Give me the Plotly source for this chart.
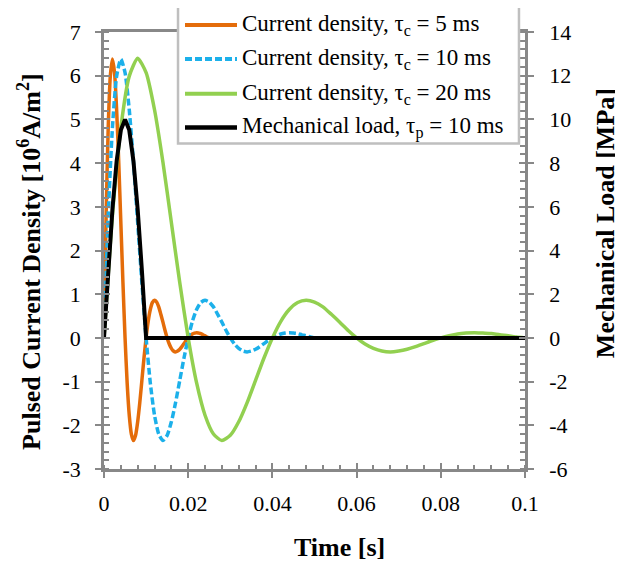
import plotly.graph_objects as go

# ---------------- data ----------------
time_c5 = [0, 0.0005, 0.001, 0.0015, 0.002, 0.0025, 0.003, 0.0035, 0.004, 0.0045,
           0.005, 0.0055, 0.006, 0.0065, 0.007, 0.0075, 0.008, 0.0085, 0.009, 0.0095,
           0.010, 0.0105, 0.011, 0.0115, 0.012, 0.0125, 0.013, 0.0135, 0.014, 0.0145,
           0.015, 0.0155, 0.016, 0.0165, 0.017, 0.0175, 0.018, 0.0185, 0.019, 0.0195,
           0.020, 0.0205, 0.021, 0.0215, 0.022, 0.0225, 0.023, 0.0235, 0.024, 0.0245,
           0.025, 0.03, 0.04, 0.05, 0.06, 0.07, 0.08, 0.09, 0.1]
current_c5 = [0, 2.80, 4.81, 5.99, 6.38, 6.07, 5.22, 4.02, 2.64, 1.26,
              0, -1.03, -1.77, -2.20, -2.35, -2.23, -1.92, -1.48, -0.97, -0.46,
              0, 0.38, 0.65, 0.81, 0.86, 0.82, 0.71, 0.54, 0.36, 0.17,
              0, -0.14, -0.24, -0.30, -0.32, -0.30, -0.26, -0.20, -0.13, -0.06,
              0, 0.05, 0.09, 0.11, 0.12, 0.11, 0.10, 0.07, 0.05, 0.02,
              0, 0, 0, 0, 0, 0, 0, 0, 0]

time_c10 = [0, 0.001, 0.002, 0.003, 0.004, 0.005, 0.006, 0.007, 0.008, 0.009,
            0.010, 0.011, 0.012, 0.013, 0.014, 0.015, 0.016, 0.017, 0.018, 0.019,
            0.020, 0.021, 0.022, 0.023, 0.024, 0.025, 0.026, 0.027, 0.028, 0.029,
            0.030, 0.031, 0.032, 0.033, 0.034, 0.035, 0.036, 0.037, 0.038, 0.039,
            0.040, 0.041, 0.042, 0.043, 0.044, 0.045, 0.046, 0.047, 0.048, 0.049,
            0.050, 0.06, 0.07, 0.08, 0.09, 0.1]
current_c10 = [0, 2.80, 4.81, 5.99, 6.38, 6.07, 5.22, 4.02, 2.64, 1.26,
               0, -1.03, -1.77, -2.20, -2.35, -2.23, -1.92, -1.48, -0.97, -0.46,
               0, 0.38, 0.65, 0.81, 0.86, 0.82, 0.71, 0.54, 0.36, 0.17,
               0, -0.14, -0.24, -0.30, -0.32, -0.30, -0.26, -0.20, -0.13, -0.06,
               0, 0.05, 0.09, 0.11, 0.12, 0.11, 0.10, 0.07, 0.05, 0.02,
               0, 0, 0, 0, 0, 0]

time_c20 = [0, 0.002, 0.004, 0.006, 0.008, 0.010, 0.012, 0.014, 0.016, 0.018,
            0.020, 0.022, 0.024, 0.026, 0.028, 0.030, 0.032, 0.034, 0.036, 0.038,
            0.040, 0.042, 0.044, 0.046, 0.048, 0.050, 0.052, 0.054, 0.056, 0.058,
            0.060, 0.062, 0.064, 0.066, 0.068, 0.070, 0.072, 0.074, 0.076, 0.078,
            0.080, 0.082, 0.084, 0.086, 0.088, 0.090, 0.092, 0.094, 0.096, 0.098,
            0.1]
current_c20 = [0, 2.80, 4.81, 5.99, 6.40, 6.07, 5.22, 4.02, 2.64, 1.26,
               0, -1.03, -1.77, -2.20, -2.35, -2.23, -1.92, -1.48, -0.97, -0.46,
               0, 0.38, 0.65, 0.81, 0.86, 0.82, 0.71, 0.54, 0.36, 0.17,
               0, -0.14, -0.24, -0.30, -0.32, -0.30, -0.26, -0.20, -0.13, -0.06,
               0, 0.05, 0.09, 0.11, 0.12, 0.11, 0.10, 0.07, 0.05, 0.02,
               0]

time_load = [0, 0.001, 0.002, 0.003, 0.004, 0.005, 0.006, 0.007, 0.008, 0.009, 0.010, 0.1]
load_mpa = [0, 3.09, 5.88, 8.09, 9.51, 10.0, 9.51, 8.09, 5.88, 3.09, 0, 0]

x_tickvals = [0, 0.02, 0.04, 0.06, 0.08, 0.1]
x_ticktext = ["0", "0.02", "0.04", "0.06", "0.08", "0.1"]
y1_tickvals = [-3, -2, -1, 0, 1, 2, 3, 4, 5, 6, 7]
y1_ticktext = ["-3", "-2", "-1", "0", "1", "2", "3", "4", "5", "6", "7"]
y2_tickvals = [-6, -4, -2, 0, 2, 4, 6, 8, 10, 12, 14]
y2_ticktext = ["-6", "-4", "-2", "0", "2", "4", "6", "8", "10", "12", "14"]

legend_labels = [
    "Current density, τ<sub>c</sub> = 5 ms",
    "Current density, τ<sub>c</sub> = 10 ms",
    "Current density, τ<sub>c</sub> = 20 ms",
    "Mechanical load, τ<sub>p</sub> = 10 ms",
]

# ---------------- styling ----------------
FONT = "Liberation Serif"
AXIS_GRAY = "#888888"
ORANGE = "#E46C0A"
BLUE = "#1CB0EA"
GREEN = "#92D050"
BLACK = "#000000"
PAD = "\u2002"  # en space: pushes right-axis labels away from the axis like the reference

fig = go.Figure()
fig.add_trace(go.Scatter(x=time_c5, y=current_c5, mode="lines", name=legend_labels[0],
                         line=dict(color=ORANGE, width=3.5, shape="spline", smoothing=0.6),
                         showlegend=False))
fig.add_trace(go.Scatter(x=time_c10, y=current_c10, mode="lines", name=legend_labels[1],
                         line=dict(color=BLUE, width=3.5, dash="7px,3px", shape="spline", smoothing=0.6),
                         showlegend=False))
fig.add_trace(go.Scatter(x=time_c20, y=current_c20, mode="lines", name=legend_labels[2],
                         line=dict(color=GREEN, width=3.5, shape="spline", smoothing=0.6),
                         showlegend=False))
fig.add_trace(go.Scatter(x=time_load, y=load_mpa, mode="lines", name=legend_labels[3],
                         line=dict(color=BLACK, width=4), yaxis="y2", showlegend=False))

# helper invisible traces so the overlay axes (inside halves of crossing ticks) render
for xa, ya in (("x3", "y"), ("x", "y4"), ("x", "y5")):
    fig.add_trace(go.Scatter(x=[0], y=[0], mode="lines", xaxis=xa, yaxis=ya,
                             showlegend=False, hoverinfo="skip", line=dict(width=0)))

tickfont = dict(family=FONT, size=22, color="black")

fig.update_layout(
    width=615, height=561,
    margin=dict(l=96, r=98, t=22, b=100),
    paper_bgcolor="white", plot_bgcolor="white",
    showlegend=False,
    xaxis=dict(range=[0, 0.1], tickvals=x_tickvals, ticktext=x_ticktext,
               showgrid=False, zeroline=False,
               showline=True, linecolor=AXIS_GRAY, linewidth=2.5, mirror=True,
               ticks="outside", ticklen=6, tickwidth=2, tickcolor=AXIS_GRAY,
               minor=dict(dtick=0.004, tick0=0, ticks="inside", ticklen=4, tickwidth=1.5,
                          tickcolor=AXIS_GRAY, showgrid=False),
               tickfont=tickfont, ticklabelstandoff=7),
    xaxis3=dict(range=[0, 0.1], dtick=0.02, tick0=0, overlaying="x", anchor="y",
                showgrid=False, zeroline=False, showline=False, showticklabels=False,
                ticks="inside", ticklen=6, tickwidth=2, tickcolor=AXIS_GRAY),
    yaxis=dict(range=[-3, 7], tickvals=y1_tickvals, ticktext=y1_ticktext,
               showgrid=False, zeroline=False,
               showline=True, linecolor=AXIS_GRAY, linewidth=2.5,
               ticks="outside", ticklen=6, tickwidth=2, tickcolor=AXIS_GRAY,
               minor=dict(dtick=0.2, tick0=0, ticks="inside", ticklen=5, tickwidth=1.5,
                          tickcolor=AXIS_GRAY, showgrid=False),
               tickfont=tickfont, ticklabelstandoff=10),
    yaxis2=dict(range=[-6, 14], tickvals=y2_tickvals, ticktext=[PAD + t for t in y2_ticktext],
                overlaying="y", side="right", anchor="x",
                showgrid=False, zeroline=False,
                showline=True, linecolor=AXIS_GRAY, linewidth=2.5,
                ticks="outside", ticklen=6, tickwidth=2, tickcolor=AXIS_GRAY,
                minor=dict(dtick=0.4, tick0=0, ticks="inside", ticklen=5, tickwidth=1.5,
                           tickcolor=AXIS_GRAY, showgrid=False),
                tickfont=tickfont),
    yaxis4=dict(range=[-3, 7], dtick=1, tick0=0, overlaying="y", anchor="x", side="left",
                showgrid=False, zeroline=False, showline=False, showticklabels=False,
                ticks="inside", ticklen=6, tickwidth=2, tickcolor=AXIS_GRAY),
    yaxis5=dict(range=[-6, 14], dtick=2, tick0=0, overlaying="y", anchor="x", side="right",
                showgrid=False, zeroline=False, showline=False, showticklabels=False,
                ticks="inside", ticklen=6, tickwidth=2, tickcolor=AXIS_GRAY),
)

# ---------------- axis titles ----------------
title_font = dict(family=FONT, size=26, color="black")
fig.add_annotation(text="<b>Time [s]</b>", xref="paper", yref="paper", x=0.56, y=-0.18,
                   xanchor="center", yanchor="middle", showarrow=False, font=title_font)
fig.add_annotation(text="<b>Pulsed Current Density [10<sup>6</sup>A/m<sup>2</sup>]</b>",
                   xref="paper", yref="paper", x=-0.176, y=0.476, textangle=-90,
                   xanchor="center", yanchor="middle", showarrow=False, font=title_font)
fig.add_annotation(text="<b>Mechanical Load [MPa]</b>", xref="paper", yref="paper",
                   x=1.19, y=0.5626, textangle=-90,
                   xanchor="center", yanchor="middle", showarrow=False, font=title_font)

# ---------------- legend box (drawn manually, Excel-style) ----------------
fig.add_shape(type="rect", xref="paper", yref="paper", x0=0.1758, x1=0.9857, y0=0.7449, y1=1.0592,
              fillcolor="white", line=dict(color="#BFBFBF", width=2.5), layer="above")
legend_colors = [ORANGE, BLUE, GREEN, BLACK]
legend_dash = ["solid", "7px,3px", "solid", "solid"]
legend_widths = [4, 4, 4, 4.5]
legend_rows = [1.016, 0.9385, 0.8588, 0.7813]
for lbl, col, dsh, lw, yy in zip(legend_labels, legend_colors, legend_dash, legend_widths, legend_rows):
    fig.add_shape(type="line", xref="paper", yref="paper", x0=0.1924, x1=0.3159, y0=yy, y1=yy,
                  line=dict(color=col, width=lw, dash=dsh), layer="above")
    fig.add_annotation(text=lbl, xref="paper", yref="paper", x=0.323, y=yy,
                       xanchor="left", yanchor="middle", showarrow=False,
                       font=dict(family=FONT, size=23, color="black"))

fig.write_html("out.html")
